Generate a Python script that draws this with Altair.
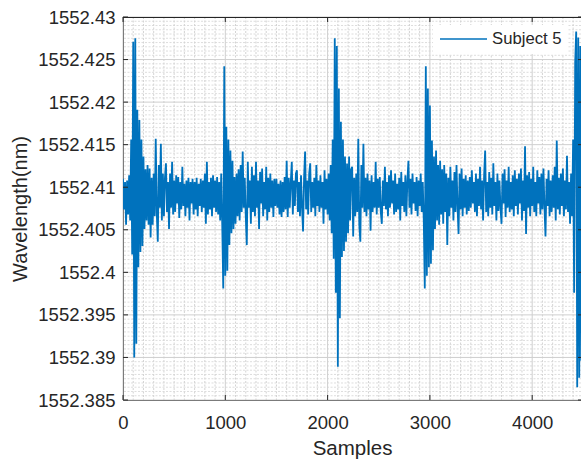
import altair as alt
import pandas as pd

# ---- data ----------------------------------------------------------------
BASE = 1552.4096   # centre of the noise band (nm)
UNIT = 1e-4        # offsets below are in units of 0.0001 nm
STEP = 10          # samples between two listed values

offsets = [
    14, -22, 10, -40, 12, -28, 18, -35, 60, -75,
    175, -196, 179, -180, 95, -90, 83, -72, 60, -65,
    40, -45, 25, -35, 30, -40, 26, -55, 15, -40,
    20, -30, 61, -25, -60, 30, -20, 55, -35, 20,
    -30, 15, 32, -25, 10, -45, 20, -20, 34, -28,
    12, -25, 18, -15, 16, -32, 10, -22, 28, -18,
    8, -30, 12, -20, 15, -35, 10, -15, 14, -28,
    10, -22, 15, -30, 8, -18, 14, -25, 12, -20,
    20, -39, 34, -28, 10, -22, 15, -30, 18, -20,
    12, -25, 16, -28, 10, -35, 20, -40, -115, 146,
    -100, 75, -94, 60, -64, 47, -50, 35, -45, 16,
    -39, 20, -30, 25, -35, 30, -25, 46, -20, 15,
    -30, -64, 34, -20, 12, -39, 28, -25, 18, -30,
    34, -20, 12, -45, 22, -15, 26, -30, 10, -22,
    28, -35, 15, -25, 20, -20, 12, -31, 14, -18,
    14, -20, 8, -28, 12, -31, 10, -25, 16, -22,
    35, -31, 15, -20, 10, 34, -28, 12, -18, 20,
    24, -25, 10, -30, 18, -20, -48, 15, 46, -22,
    12, -28, 20, 32, -25, 10, -20, 15, -30, 30,
    -18, 12, -25, 18, -20, 10, -39, 24, -22, 14,
    -28, 20, -35, 30, -50, 60, -80, 179, -120, 170,
    -207, 120, -150, 81, -78, 60, -71, 40, -60, 32,
    -50, 40, -35, 25, 28, -54, 15, -30, 20, -25,
    61, -40, -60, 30, -20, 55, -25, 15, -30, 20,
    -22, 12, -47, 18, -25, 10, -20, 34, -28, 14,
    -20, 16, -25, -39, 12, -18, 28, -22, 10, -30,
    18, -20, 24, -15, 12, -28, 20, -25, 8, -22,
    15, -35, 22, -18, 10, -25, 18, -30, 12, 35,
    -20, 14, -28, 20, -15, 10, -24, 16, -30, 12,
    -18, 20, -25, 10, -35, -115, 146, -100, 120, -90,
    100, -86, 59, -70, 40, -45, 47, -35, 30, -40,
    35, -28, 25, -39, 30, -25, 20, -64, 15, -30,
    28, -20, 12, -35, 22, -25, 30, -18, -51, 20,
    -22, 26, -30, 14, -20, 18, -28, 12, -24, 16,
    -20, 24, -15, 10, -25, 20, -30, 14, -18, 28,
    -22, 12, -35, 18, 47, -25, 10, -30, 22, -20,
    15, -28, 32, -18, 10, -35, 20, -24, 12, -20,
    -39, 20, -15, 25, -31, 12, -20, 28, -25, 10,
    -22, 18, -30, 24, -18, 14, -28, 20, -15, 26,
    -35, 12, -24, 52, -51, 18, -20, 22, -30, 14,
    -18, 28, -25, 10, -30, 24, -15, 16, -28, 20,
    -22, 26, -20, -54, 14, -18, 24, -30, 12, -25,
    18, -20, 28, -35, 59, -22, 15, -28, 20, -18,
    26, -30, 12, -22, 41, -25, 10, -39, 20, -30,
    60, -120, 150, 187, -231, 180, -220, 170, -200, 160,
]
series_name = "Subject 5"

x_ticks = [0, 1000, 2000, 3000, 4000]
y_ticks = [1552.385, 1552.39, 1552.395, 1552.4, 1552.405,
           1552.41, 1552.415, 1552.42, 1552.425, 1552.43]
x_minor = [v for v in range(100, 4500, 100) if v % 1000 != 0]
y_minor = [round(1552.385 + k * 0.0005, 4) for k in range(91) if k % 10 != 0]

samples = [i * STEP for i in range(len(offsets))]
wavelength = [round(BASE + o * UNIT, 5) for o in offsets]
df = pd.DataFrame({"sample": samples, "wavelength": wavelength,
                   "series": [series_name] * len(samples)})

# ---- style -----------------------------------------------------------------
FONT = "Liberation Sans"
DARK = "#262626"
BLUE = "#0072BD"
W, H = 458, 383

XS = alt.Scale(domain=[0, 4477], nice=False, zero=False)
YS = alt.Scale(domain=[1552.385, 1552.43], nice=False, zero=False)
XA = alt.Axis(values=x_ticks, title="Samples", format="d", grid=False,
              ticks=False, tickSize=0, labelPadding=13, labelFlush=False,
              labelOverlap=False, domain=True, domainColor=DARK, domainWidth=1,
              labelFont=FONT, labelFontSize=18.5, labelColor=DARK,
              titleFont=FONT, titleFontSize=20.5, titleFontWeight="normal",
              titleColor=DARK, titlePadding=7)
YA = alt.Axis(values=y_ticks, title="Wavelength(nm)", format=".7~g", grid=False,
              ticks=False, tickSize=0, labelPadding=8, labelFlush=False,
              labelOverlap=False, domain=True, domainColor=DARK, domainWidth=1,
              labelFont=FONT, labelFontSize=18.5, labelColor=DARK,
              titleFont=FONT, titleFontSize=20, titleFontWeight="normal",
              titleColor=DARK, titlePadding=7)

gx_minor = pd.DataFrame({"gx": x_minor})
gy_minor = pd.DataFrame({"gy": y_minor})
gx_major = pd.DataFrame({"gx": x_ticks})
gy_major = pd.DataFrame({"gy": y_ticks})
one = pd.DataFrame({"k": [0]})

minor_v = alt.Chart(gx_minor).mark_rule(color="#c8c8c8", strokeWidth=0.8, strokeDash=[2, 1.5]).encode(
    x=alt.X("gx:Q", scale=XS, axis=XA))
minor_h = alt.Chart(gy_minor).mark_rule(color="#d4d4d4", strokeWidth=0.8, strokeDash=[2, 1.5]).encode(
    y=alt.Y("gy:Q", scale=YS, axis=YA))
major_v = alt.Chart(gx_major).mark_rule(color="#cfcfcf", strokeWidth=1).encode(
    x=alt.X("gx:Q", scale=XS, axis=XA))
major_h = alt.Chart(gy_major).mark_rule(color="#cfcfcf", strokeWidth=1).encode(
    y=alt.Y("gy:Q", scale=YS, axis=YA))

line = alt.Chart(df).mark_line(strokeWidth=1.8, clip=True).encode(
    x=alt.X("sample:Q", scale=XS, axis=XA),
    y=alt.Y("wavelength:Q", scale=YS, axis=YA),
    color=alt.Color("series:N", scale=alt.Scale(range=[BLUE]),
                    legend=alt.Legend(title=None, orient="none", legendX=310, legendY=8,
                                      symbolType="stroke", symbolSize=2209,
                                      symbolStrokeWidth=1.5, labelFont=FONT,
                                      labelFontSize=16.7, labelColor=DARK,
                                      labelOffset=4, fillColor="white",
                                      padding=6, clipHeight=16)),
)

top_frame = alt.Chart(one).mark_rule(color=DARK, strokeWidth=1).encode(
    x=alt.value(0), x2=alt.value(W), y=alt.value(0.5))
bottom_ticks = alt.Chart(gx_major).mark_rule(color=DARK).encode(
    x=alt.X("gx:Q", scale=XS, axis=XA), y=alt.value(H), y2=alt.value(H - 5))
top_ticks = alt.Chart(gx_major).mark_rule(color=DARK).encode(
    x=alt.X("gx:Q", scale=XS, axis=XA), y=alt.value(0), y2=alt.value(5))
left_ticks = alt.Chart(gy_major).mark_rule(color=DARK).encode(
    y=alt.Y("gy:Q", scale=YS, axis=YA), x=alt.value(0), x2=alt.value(5))
right_ticks = alt.Chart(gy_major).mark_rule(color=DARK).encode(
    y=alt.Y("gy:Q", scale=YS, axis=YA), x=alt.value(W - 3), x2=alt.value(W))

chart = alt.layer(
    minor_v, minor_h, major_v, major_h, line,
    top_frame, bottom_ticks, top_ticks, left_ticks, right_ticks,
).properties(
    width=W, height=H,
    autosize=alt.AutoSizeParams(type="none"),
    padding={"left": 123, "top": 17, "right": 0, "bottom": 62},
    background="white",
).configure_view(stroke=None)

chart.save("out.html", embed_options={"renderer": "svg", "actions": False})
